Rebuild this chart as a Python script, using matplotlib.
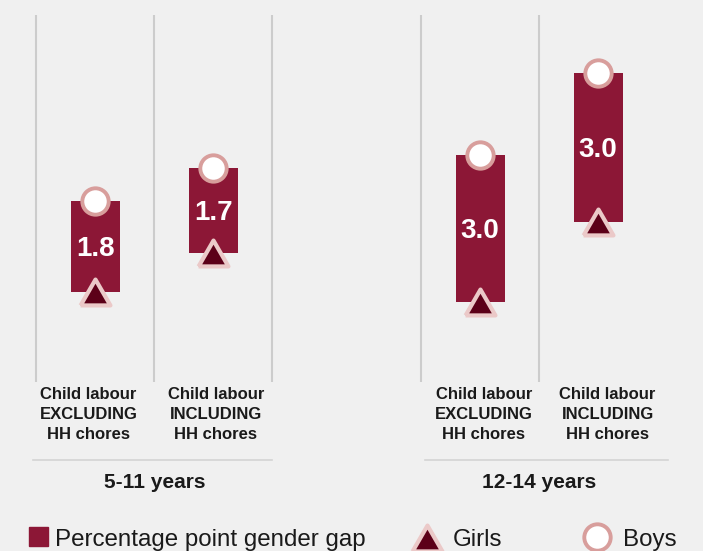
import matplotlib
matplotlib.use("Agg")
import matplotlib.pyplot as plt
import matplotlib.transforms as mtransforms
from matplotlib.lines import Line2D
from matplotlib.patches import Rectangle

plt.rcParams['font.family'] = ['Liberation Sans', 'DejaVu Sans']

# data (percent of children in child labour)
categories = ["Child labour\nEXCLUDING\nHH chores", "Child labour\nINCLUDING\nHH chores",
              "Child labour\nEXCLUDING\nHH chores", "Child labour\nINCLUDING\nHH chores"]
age_groups = ["5-11 years", "12-14 years"]
girls = [1.80, 2.60, 1.60, 3.21]
boys = [3.64, 4.30, 4.57, 6.22]
gap = [b - g for b, g in zip(boys, girls)]

# layout
xpos = [0.5, 1.5, 3.76, 4.76]
label_dx = [-0.06, 0.02, 0.03, 0.08]
grid_x = [0, 1, 2, 3.26, 4.26]
group_mid = [1.0, 4.26]
group_span = [(-0.03, 2.0), (3.29, 5.35)]

BAR = '#8c1736'
TRI = '#5c0018'
TRI_EDGE = '#ebc9c8'
CIRC_EDGE = '#d89e9c'
BG = '#f0f0f0'
tri_marker = [(-1, -0.866), (1, -0.866), (0, 0.866), (-1, -0.866)]

fig = plt.figure(figsize=(7.03, 5.51), dpi=100, facecolor=BG)
ax = fig.add_axes([0, 1 - 382 / 551, 1, 367 / 551])
ax.set_facecolor('none')
ax.set_xlim(-36.5 / 118, 666.5 / 118)
ax.set_ylim(0, 7.38)
ax.axis('off')

for gx in grid_x:
    ax.axvline(gx, color='#cccccc', lw=1.5, zorder=1)

ax.bar(xpos, gap, bottom=girls, width=0.415, color=BAR, zorder=2)
for x, g, b, v in zip(xpos, girls, boys, gap):
    ax.text(x, (g + b) / 2 - 0.05, f"{v:.1f}", color='white', fontsize=20,
            fontweight='bold', ha='center', va='center', zorder=3)

ax.plot(xpos, girls, ls='none', marker=tri_marker, ms=21.5, mfc=TRI,
        mec=TRI_EDGE, mew=3, zorder=4)
ax.plot(xpos, boys, ls='none', marker='o', ms=19, mfc='white',
        mec=CIRC_EDGE, mew=2.8, zorder=4)

trans = mtransforms.blended_transform_factory(ax.transData, fig.transFigure)
for x, dx, lab in zip(xpos, label_dx, categories):
    ax.text(x + dx, 1 - 414.5 / 551, lab, transform=trans, ha='center', va='center',
            fontsize=12, fontweight='bold', color='#1a1a1a', linespacing=1.38)

for (x0, x1), xm, name in zip(group_span, group_mid, age_groups):
    fig.add_artist(Line2D([x0, x1], [1 - 460 / 551] * 2, transform=trans,
                          color='#d4d4d4', lw=1.2))
    ax.text(xm, 1 - 483 / 551, name, transform=trans, ha='center', va='center',
            fontsize=15, fontweight='bold', color='#1a1a1a')

# legend
lg = fig.add_axes([0, 0, 1, 1])
lg.set_facecolor('none')
lg.set_xlim(0, 703)
lg.set_ylim(551, 0)
lg.axis('off')
lg.add_patch(Rectangle((28.7, 526.7), 19, 19, color=BAR))
lg.text(55, 545.7, "Percentage point gender gap", fontsize=17.4, va='baseline', color='#1a1a1a')
lg.plot([426.7], [537.5], marker=tri_marker, ms=21.5, mfc=TRI, mec=TRI_EDGE, mew=3)
lg.text(452.7, 545.7, "Girls", fontsize=17.4, va='baseline', color='#1a1a1a')
lg.plot([596.7], [537], marker='o', ms=19, mfc='white', mec=CIRC_EDGE, mew=2.8)
lg.text(623.3, 545.7, "Boys", fontsize=17.4, va='baseline', color='#1a1a1a')

fig.savefig("out.png", dpi=100, facecolor=BG)
